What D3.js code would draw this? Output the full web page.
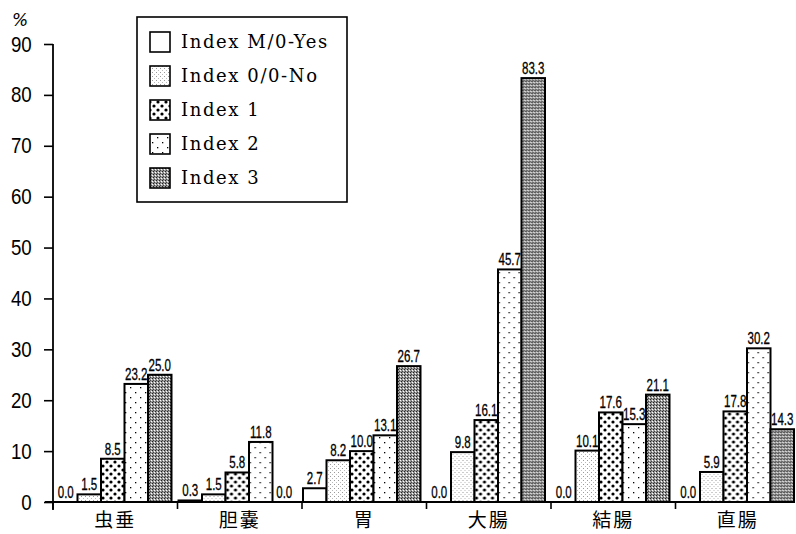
<!DOCTYPE html>
<html><head><meta charset="utf-8">
<script src="https://cdn.jsdelivr.net/npm/d3@7"></script>
<style>
html,body{margin:0;padding:0;background:#fff;}
svg{display:block;}
</style></head>
<body>
<svg id="chart" width="796" height="534"></svg>
<script>
const categories = ["虫垂","胆嚢","胃","大腸","結腸","直腸"];
const seriesNames = ["Index M/0-Yes","Index 0/0-No","Index 1","Index 2","Index 3"];
const idxM0Yes = [0.0, 0.3, 2.7, 0.0, 0.0, 0.0];
const idx00No  = [1.5, 1.5, 8.2, 9.8, 10.1, 5.9];
const idx1     = [8.5, 5.8, 10.0, 16.1, 17.6, 17.8];
const idx2     = [23.2, 11.8, 13.1, 45.7, 15.3, 30.2];
const idx3     = [25.0, 0.0, 26.7, 83.3, 21.1, 14.3];
const yTicks   = [0,10,20,30,40,50,60,70,80,90];

const seriesValues = [idxM0Yes, idx00No, idx1, idx2, idx3];
const svg = d3.select("#chart");

// patterns
const defs = svg.append("defs");
function pat(id, w, h, build){
  const p = defs.append("pattern").attr("id", id).attr("patternUnits","userSpaceOnUse")
    .attr("width", w).attr("height", h);
  p.append("rect").attr("width", w).attr("height", h).attr("fill", "#fff");
  build(p);
}
pat("p0", 4, 4, p => {});
pat("p1", 4, 4, p => {
  p.append("rect").attr("x",0).attr("y",0).attr("width",1).attr("height",1).attr("fill","#999");
  p.append("rect").attr("x",2).attr("y",2).attr("width",1).attr("height",1).attr("fill","#bbb");
});
pat("p2", 8, 8, p => {
  p.append("circle").attr("cx",2).attr("cy",2).attr("r",1.6).attr("fill","#000");
  p.append("circle").attr("cx",6).attr("cy",6).attr("r",1.6).attr("fill","#000");
});
pat("p3", 10, 10, p => {
  p.append("rect").attr("x",2).attr("y",2).attr("width",1.3).attr("height",1.3).attr("fill","#000");
  p.append("rect").attr("x",7).attr("y",7).attr("width",1.3).attr("height",1.3).attr("fill","#000");
});
pat("p4", 3, 3, p => {
  p.select("rect").attr("fill","#9a9a9a");
  p.append("rect").attr("x",0).attr("y",0).attr("width",1).attr("height",1).attr("fill","#222");
  p.append("rect").attr("x",2).attr("y",1).attr("width",1).attr("height",1).attr("fill","#fff");
  p.append("rect").attr("x",1).attr("y",2).attr("width",1).attr("height",1).attr("fill","#444");
});
const fills = ["url(#p0)","url(#p1)","url(#p2)","url(#p3)","url(#p4)"];

const x0 = d3.scaleBand().domain(categories).range([53, 800]).paddingInner(0).paddingOuter(0);
const x1 = d3.scaleBand().domain(seriesNames).range([1, 118.5]);
const y = d3.scaleLinear().domain([0, 90]).range([502, 44]);

const narrow = "'Liberation Sans','Arial',sans-serif";

// y axis
const yAxis = svg.append("g").attr("transform","translate(53,0)")
  .call(d3.axisLeft(y).tickValues(yTicks).tickSize(9).tickPadding(10).tickFormat(d3.format("d")));
yAxis.select(".domain").remove();
yAxis.selectAll(".tick line").attr("stroke","#000").attr("stroke-width",1.6);
yAxis.selectAll(".tick text").attr("font-family",narrow)
  .attr("font-size",22).attr("fill","#000")
  .attr("transform","translate(-34,0) scale(0.85,1) translate(34,0)");
svg.append("line").attr("x1",53).attr("x2",53).attr("y1",y(90)).attr("y2",y(0)+8)
  .attr("stroke","#000").attr("stroke-width",1.8);
svg.append("text").attr("x",12).attr("y",26).text("%")
  .attr("font-family","'DejaVu Sans',sans-serif").attr("font-style","italic").attr("font-size",17);

// groups
const rows = categories.map((c,i)=>({cat:c, vals: seriesValues.map((s,j)=>({name:seriesNames[j], v:s[i], k:j}))}));
const g = svg.selectAll("g.grp").data(rows).join("g").attr("class","grp")
  .attr("transform", d=>`translate(${x0(d.cat)},0)`);
g.selectAll("rect").data(d=>d.vals.filter(v=>v.v>0)).join("rect")
  .attr("x", d=>x1(d.name)).attr("width", x1.bandwidth())
  .attr("y", d=>y(d.v)).attr("height", d=>y(0)-y(d.v))
  .attr("fill", d=>fills[d.k]).attr("stroke","#000").attr("stroke-width",2);
g.selectAll("text.val").data(d=>d.vals).join("text").attr("class","val")
  .attr("transform", d=>`translate(${x1(d.name)+x1.bandwidth()/2},${y(d.v)-4}) scale(0.68,1)`)
  .attr("text-anchor","middle")
  .attr("font-family",narrow)
  .attr("font-size",17).attr("fill","#000").attr("stroke","#000").attr("stroke-width",0.3)
  .text(d=>d.v.toFixed(1));

// x axis
const xAxis = svg.append("g").attr("transform",`translate(0,${y(0)})`)
  .call(d3.axisBottom(x0).tickSize(0).tickPadding(0));
xAxis.select(".domain").remove();
xAxis.selectAll(".tick text").attr("font-family","'Noto Sans CJK JP',sans-serif")
  .attr("font-size",19).attr("fill","#000").attr("y",25).attr("dy","0").attr("letter-spacing",2);
svg.append("line").attr("x1",45).attr("x2",790).attr("y1",y(0)).attr("y2",y(0))
  .attr("stroke","#000").attr("stroke-width",2);
svg.selectAll("line.bt").data(categories).join("line").attr("class","bt")
  .attr("x1",d=>x0(d)).attr("x2",d=>x0(d)).attr("y1",y(0)).attr("y2",y(0)+7)
  .attr("stroke","#000").attr("stroke-width",1.6);

// legend
const lg = svg.append("g");
lg.append("rect").attr("x",137).attr("y",17).attr("width",210).attr("height",185)
  .attr("fill","#fff").attr("stroke","#000").attr("stroke-width",1.6);
const ly = d3.scalePoint().domain(seriesNames).range([42, 178]);
seriesNames.forEach((n,i)=>{
  lg.append("rect").attr("x",150).attr("y",ly(n)-10).attr("width",20).attr("height",20)
    .attr("fill",fills[i]).attr("stroke","#000").attr("stroke-width",1.6);
  lg.append("text").attr("x",181).attr("y",ly(n)).attr("dy","0.35em").text(n)
    .attr("font-family","'DejaVu Serif',serif").attr("font-size",18).attr("letter-spacing",1.6);
});
</script>
</body></html>
